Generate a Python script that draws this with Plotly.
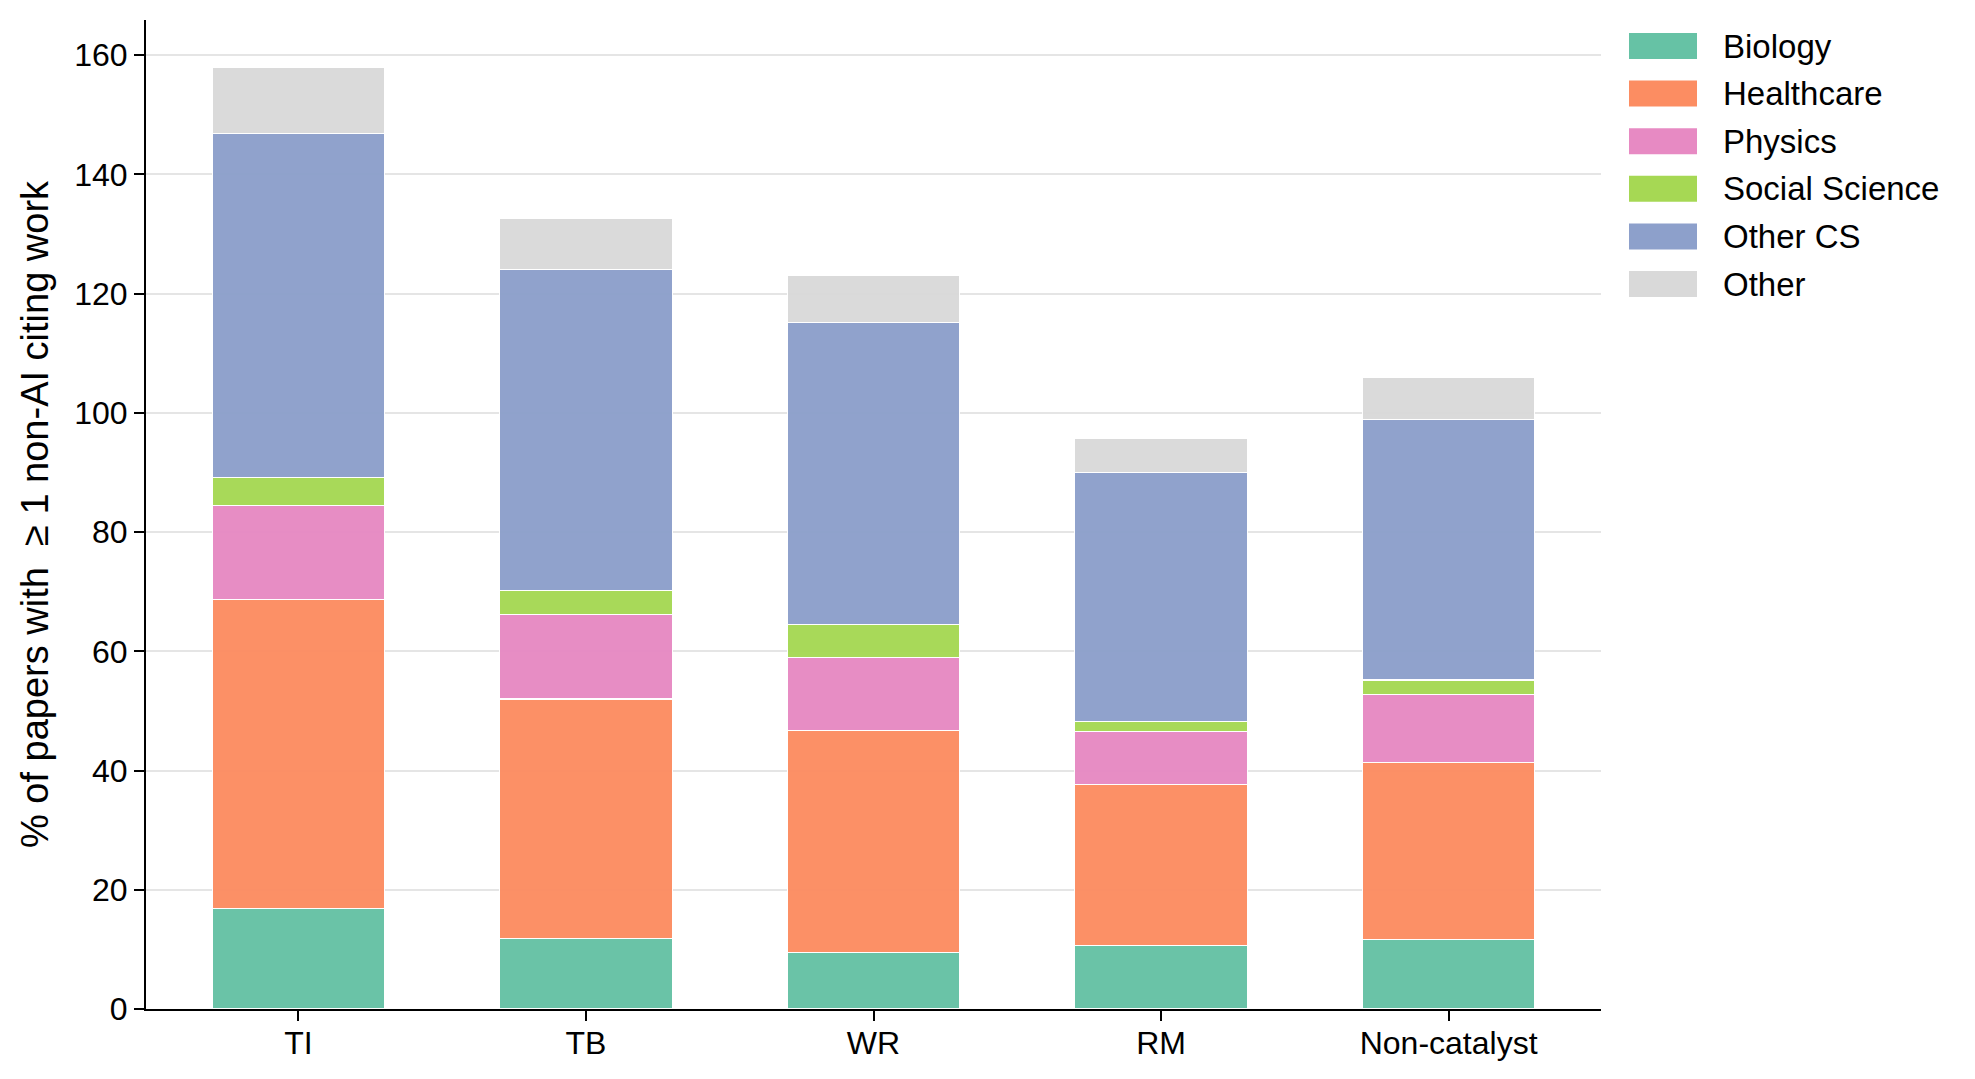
import plotly.graph_objects as go

categories = ["TI", "TB", "WR", "RM", "Non-catalyst"]
biology = [16.9, 11.8, 9.5, 10.6, 11.6]
healthcare = [51.8, 40.2, 37.2, 27.0, 29.8]
physics = [15.8, 14.2, 12.3, 8.9, 11.4]
social_science = [4.7, 4.0, 5.5, 1.7, 2.4]
other_cs = [57.7, 53.9, 50.7, 41.8, 43.7]
other = [11.0, 8.6, 7.8, 5.8, 7.0]

series_names = ["Biology", "Healthcare", "Physics", "Social Science", "Other CS", "Other"]
series_values = [biology, healthcare, physics, social_science, other_cs, other]
series_colors = ["#66c2a5", "#fc8d62", "#e78ac3", "#a6d854", "#8da0cb", "#d9d9d9"]

FONT = "Liberation Sans, Arial, Helvetica, sans-serif"
W, H = 1975, 1079
ML, MR, MT, MB = 146, 374, 20, 70
PW, PH = W - ML - MR, H - MT - MB

fig = go.Figure()
for name, vals, col in zip(series_names, series_values, series_colors):
    fig.add_trace(go.Bar(
        x=categories, y=vals, name=name, width=0.6,
        marker=dict(color=col, line=dict(color="white", width=1.2)),
        opacity=0.97, showlegend=False,
    ))

# custom legend (large swatches like the reference)
shapes = []
annotations = []
for i, (name, col) in enumerate(zip(series_names, series_colors)):
    cy = 46 + i * 47.6
    y0 = (H - MB - (cy + 13)) / PH
    y1 = (H - MB - (cy - 13)) / PH
    shapes.append(dict(type="rect", xref="paper", yref="paper",
                       x0=(1629 - ML) / PW, x1=(1697 - ML) / PW, y0=y0, y1=y1,
                       fillcolor=col, line=dict(width=0)))
    annotations.append(dict(text=name, xref="paper", yref="paper",
                            x=(1721 - ML) / PW, y=(H - MB - cy) / PH,
                            xanchor="left", yanchor="middle", showarrow=False,
                            font=dict(family=FONT, size=33, color="black")))

fig.update_layout(
    barmode="stack",
    width=W, height=H,
    margin=dict(l=ML, r=MR, t=MT, b=MB),
    paper_bgcolor="white", plot_bgcolor="white",
    font=dict(family=FONT, size=32, color="black"),
    shapes=shapes, annotations=annotations,
    showlegend=False,
)
fig.update_xaxes(
    range=[-0.53, 4.53], showgrid=False, showline=True, linecolor="black", linewidth=2,
    ticks="outside", ticklen=10, tickwidth=2, tickcolor="black",
    tickfont=dict(family=FONT, size=32, color="black"), zeroline=False,
    ticklabelstandoff=-5,
)
fig.update_yaxes(
    range=[0, 165.9], tickvals=[0, 20, 40, 60, 80, 100, 120, 140, 160],
    showgrid=True, gridcolor="#e5e5e5", gridwidth=1.5,
    showline=True, linecolor="black", linewidth=2,
    ticks="outside", ticklen=10, tickwidth=2, tickcolor="black",
    tickfont=dict(family=FONT, size=32, color="black"), zeroline=False,
    title=dict(text="% of papers with  ≥ 1 non-AI citing work",
               font=dict(family=FONT, size=38, color="black"), standoff=14),
)

fig.write_html("out.html")
